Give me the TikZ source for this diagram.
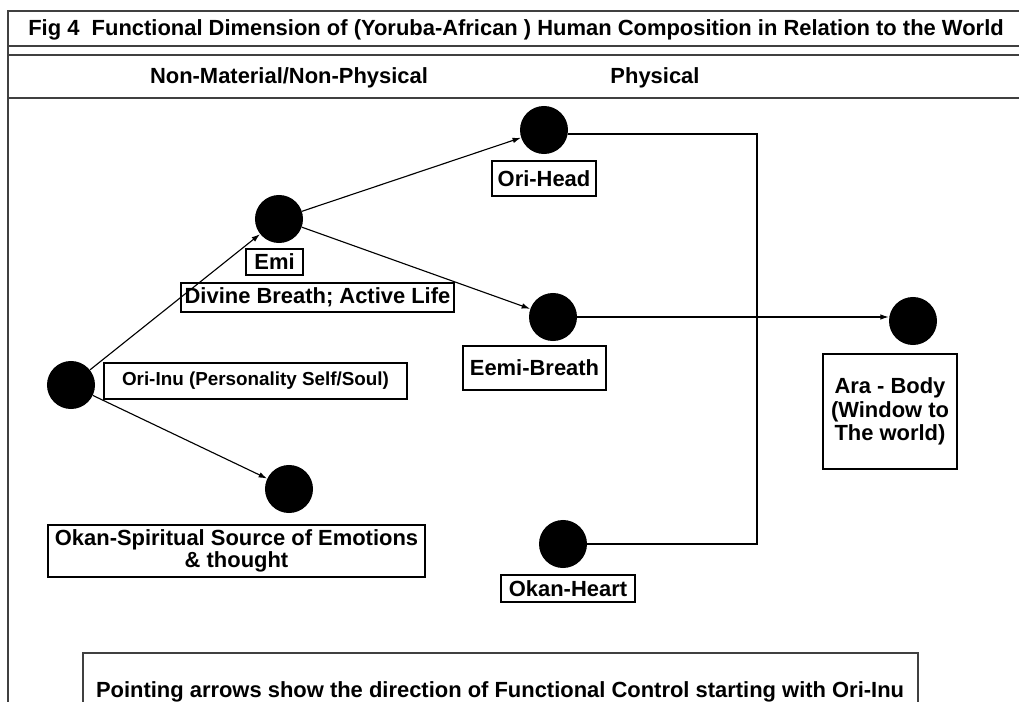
\documentclass[tikz,border=0pt]{standalone}
\usepackage{fontspec}
\setmainfont{Liberation Sans}
\usetikzlibrary{arrows.meta}

\begin{document}
\begin{tikzpicture}[x=0.025cm,y=-0.025cm,
    dot/.style={circle,fill=black,minimum size=1.2cm,inner sep=0pt},
    tag/.style={draw,line width=0.9pt,inner sep=0pt,align=center,
        font=\fontsize{15.6}{16.5}\selectfont\bfseries},
    head/.style={font=\fontsize{15.6}{18}\selectfont\bfseries,inner sep=0pt},
    ctrl/.style={-{Latex[length=6pt,width=4pt]},line width=0.8pt},
    frame/.style={line width=1.3pt,black!75}]

                    \useasboundingbox (0,0) rectangle (1019,702);

                    \draw[frame] (8,702)--(8,11)--(1019,11);
                    \draw[frame] (8,46)--(1019,46);
                    \draw[frame] (8,55)--(1019,55);
                    \draw[frame] (8,98)--(1019,98);
                    \draw[frame] (83,702)--(83,653)--(918,653)--(918,702);

                    \node[head] (title) at (516,30) {Fig 4\ \ Functional Dimension of (Yoruba-African ) Human Composition in Relation to the World};
                    \node[head] (nonphys) at (289,78) {Non-Material/Non-Physical};
                    \node[head] (phys) at (655,78) {Physical};
                    \node[head] (note) at (500,692) {Pointing arrows show the direction of Functional Control starting with Ori-Inu};

                    \node[dot] (inu) at (71,385) {};
                    \node[dot] (emi) at (279,219) {};
                    \node[dot] (orihead) at (544,130) {};
                    \node[dot] (eemi) at (553,317) {};
                    \node[dot] (ara) at (913,321) {};
                    \node[dot] (okan) at (289,489) {};
                    \node[dot] (heart) at (563,544) {};

                    \node[tag,minimum width=7.575cm,minimum height=0.9cm,font=\fontsize{13.4}{15}\selectfont\bfseries] (inulbl) at (255.5,381) {Ori-Inu (Personality Self/Soul)};
                    \node[tag,minimum width=1.425cm,minimum height=0.65cm] (emilbl) at (274.5,262) {Emi};
                    \node[tag,minimum width=6.825cm,minimum height=0.725cm] (divinelbl) at (317.5,297.5) {Divine Breath; Active Life};
                    \node[tag,minimum width=2.6cm,minimum height=0.875cm] (headlbl) at (544,178.5) {Ori-Head};
                    \node[tag,minimum width=3.575cm,minimum height=1.1cm] (eemilbl) at (534.5,368) {Eemi-Breath};
                    \node[tag,minimum width=3.35cm,minimum height=2.875cm] (aralbl) at (890,411.5) {Ara - Body\\(Window to\\The world)};
                    \node[tag,minimum width=9.425cm,minimum height=1.3cm,font=\fontsize{15.6}{15.6}\selectfont\bfseries] (okanlbl) at (236.5,551) {Okan-Spiritual Source of Emotions\\\& thought};
                    \node[tag,minimum width=3.35cm,minimum height=0.675cm] (heartlbl) at (568,588.5) {Okan-Heart};

                    \coordinate (bend) at (757,134);

                    \draw[ctrl] (inu)--(emi);
                    \draw[ctrl] (inu)--(okan);
                    \draw[ctrl] (emi)--(orihead);
                    \draw[ctrl] (emi)--(eemi);
                    \draw[ctrl] (eemi.east)--(eemi.east -| ara.west);
                    \draw[line width=0.8pt] (orihead.east |- bend)--(bend)|-(heart.east);

                  \end{tikzpicture}
\end{document}
